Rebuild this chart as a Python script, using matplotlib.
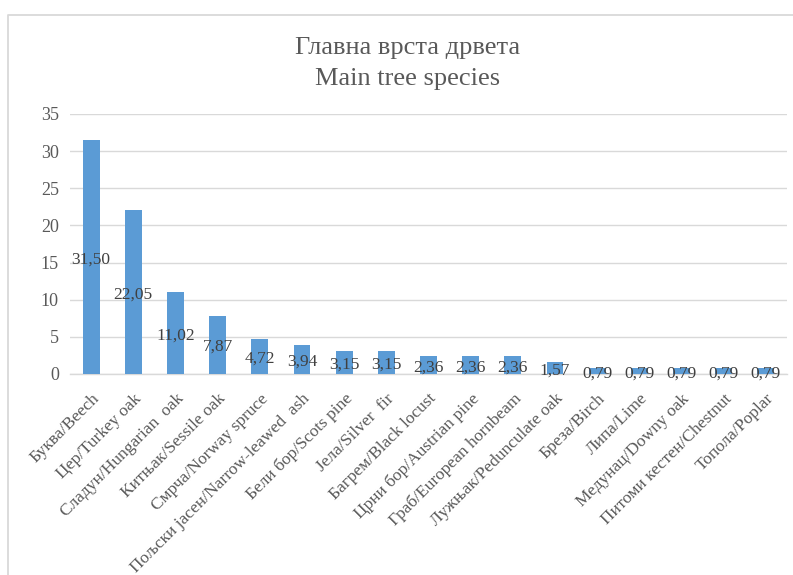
import matplotlib
matplotlib.use("Agg")
import matplotlib.pyplot as plt
from matplotlib.lines import Line2D

plt.rcParams['font.family'] = ['Liberation Serif', 'DejaVu Serif']

categories = [
    "Буква/Beech", "Цер/Turkey oak", "Сладун/Hungarian  oak", "Китњак/Sessile oak",
    "Смрча/Norway spruce", "Пољски jасен/Narrow-leawed  ash", "Бели бор/Scots pine",
    "Јела/Silver  fir", "Багрем/Black locust", "Црни бор/Austrian pine",
    "Граб/European hornbeam", "Лужњак/Pedunculate oak", "Бреза/Birch", "Липа/Lime",
    "Медунац/Downy oak", "Питоми кестен/Chestnut", "Топола/Poplar",
]
values = [31.50, 22.05, 11.02, 7.87, 4.72, 3.94, 3.15, 3.15, 2.36, 2.36, 2.36,
          1.57, 0.79, 0.79, 0.79, 0.79, 0.79]
yticks = [0, 5, 10, 15, 20, 25, 30, 35]

W, H = 793, 575
fig = plt.figure(figsize=(W / 100, H / 100), dpi=100)
fig.patch.set_facecolor("white")

# chart area border (top and left edges)
fig.add_artist(Line2D([8 / W, 8 / W, 1.0], [0.0, 1 - 15 / H, 1 - 15 / H],
                      transform=fig.transFigure, color="#d9d9d9", linewidth=1.3))

ax = fig.add_axes([70 / W, 1 - 374 / H, (787 - 70) / W, (374 - 114) / H])
x = list(range(len(categories)))
ax.bar(x, values, width=0.4, color="#5b9bd5", zorder=3)
ax.set_xlim(-0.5, len(categories) - 0.5)
ax.set_ylim(0, 35)
ax.set_yticks(yticks)
ax.set_yticklabels([str(t) for t in yticks], fontsize=13, color="#595959")
ax.yaxis.grid(True, color="#d9d9d9", linewidth=1, zorder=0)
for s in ["top", "right", "left"]:
    ax.spines[s].set_visible(False)
ax.spines["bottom"].set_color("#d9d9d9")
ax.spines["bottom"].set_linewidth(1)
ax.tick_params(axis="y", length=0, pad=8)
ax.set_xticks(x)
ax.set_xticklabels(categories, rotation=45, ha="right", va="top",
                   rotation_mode="anchor", fontsize=12.5, color="#595959")
ax.tick_params(axis="x", length=0, pad=12)

for xi, v in zip(x, values):
    ax.text(xi, v / 2 - 0.3, f"{v:.2f}".replace(".", ","), ha="center", va="center",
            fontsize=12.5, color="#404040", zorder=4)

fig.text(408 / W, 1 - 48 / H, "Главна врста дрвета", ha="center", va="center",
         fontsize=19, color="#595959")
fig.text(408 / W, 1 - 79 / H, "Main tree species", ha="center", va="center",
         fontsize=19, color="#595959")

fig.savefig("out.png", dpi=100, facecolor="white")
